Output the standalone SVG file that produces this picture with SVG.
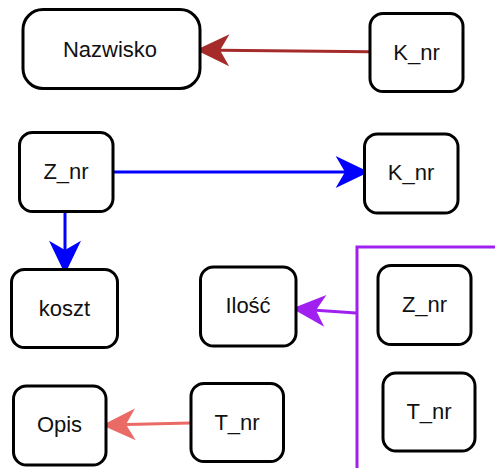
<svg xmlns="http://www.w3.org/2000/svg" width="495" height="468" viewBox="0 0 495 468">
<style>
.node rect{fill:#fff;stroke:#000;stroke-width:3}
.node text{font-family:"Liberation Sans",Arial,sans-serif;font-size:22px;fill:#111;text-anchor:middle}
.conn line{stroke-width:3}
</style>
<defs>
<marker id="mRed" markerUnits="userSpaceOnUse" markerWidth="40" markerHeight="40" viewBox="-10 -15 30 30" refX="0" refY="0" orient="auto" overflow="visible"><path d="M18,0 L-7,-12 L0,0 L-7,12 Z" fill="#a52a2a"/></marker>
<marker id="mBlue" markerUnits="userSpaceOnUse" markerWidth="40" markerHeight="40" viewBox="-10 -15 30 30" refX="0" refY="0" orient="auto" overflow="visible"><path d="M18,0 L-7,-12 L0,0 L-7,12 Z" fill="#0000ff"/></marker>
<marker id="mPurple" markerUnits="userSpaceOnUse" markerWidth="40" markerHeight="40" viewBox="-10 -15 30 30" refX="0" refY="0" orient="auto" overflow="visible"><path d="M18,0 L-7,-12 L0,0 L-7,12 Z" fill="#a020f0"/></marker>
<marker id="mCoral" markerUnits="userSpaceOnUse" markerWidth="40" markerHeight="40" viewBox="-10 -15 30 30" refX="0" refY="0" orient="auto" overflow="visible"><path d="M18,0 L-7,-12 L0,0 L-7,12 Z" fill="#ea6b66"/></marker>
</defs>
<g id="frame"><polyline points="495,247 357,247 357,468" fill="none" stroke="#a020f0" stroke-width="3"/></g>
<g id="connectors" class="conn">
<line x1="370" y1="51.7" x2="220" y2="50.2" stroke="#a52a2a" marker-end="url(#mRed)"/>
<line x1="113" y1="172" x2="345" y2="172" stroke="#0000ff" marker-end="url(#mBlue)"/>
<line x1="65" y1="212" x2="65" y2="250" stroke="#0000ff" marker-end="url(#mBlue)"/>
<line x1="356" y1="313" x2="316" y2="310.2" stroke="#a020f0" marker-end="url(#mPurple)"/>
<line x1="191" y1="423" x2="126" y2="424.6" stroke="#ea6b66" marker-end="url(#mCoral)"/>
</g>
<g id="n-nazwisko" class="node"><rect x="23" y="9.5" width="177" height="79" rx="20"/><text x="110" y="57">Nazwisko</text></g>
<g id="n-knr1" class="node"><rect x="370" y="13.5" width="93" height="78" rx="13"/><text x="416.5" y="60">K_nr</text></g>
<g id="n-znr1" class="node"><rect x="19.5" y="132.5" width="93.5" height="79" rx="13"/><text x="66" y="179">Z_nr</text></g>
<g id="n-knr2" class="node"><rect x="364.5" y="134" width="93.5" height="79" rx="13"/><text x="411" y="180">K_nr</text></g>
<g id="n-koszt" class="node"><rect x="11.5" y="269.5" width="106" height="78" rx="13"/><text x="64.5" y="316">koszt</text></g>
<g id="n-ilosc" class="node"><rect x="200.5" y="267" width="95.5" height="79" rx="13"/><text x="248" y="313">Ilość</text></g>
<g id="n-znr2" class="node"><rect x="378" y="265.5" width="93" height="79" rx="13"/><text x="424.5" y="312">Z_nr</text></g>
<g id="n-opis" class="node"><rect x="13.5" y="386" width="92.5" height="79" rx="13"/><text x="59.5" y="432">Opis</text></g>
<g id="n-tnr1" class="node"><rect x="191" y="383.5" width="92.5" height="78" rx="13"/><text x="237" y="430">T_nr</text></g>
<g id="n-tnr2" class="node"><rect x="383" y="373" width="92" height="78" rx="13"/><text x="429" y="419">T_nr</text></g>
</svg>
